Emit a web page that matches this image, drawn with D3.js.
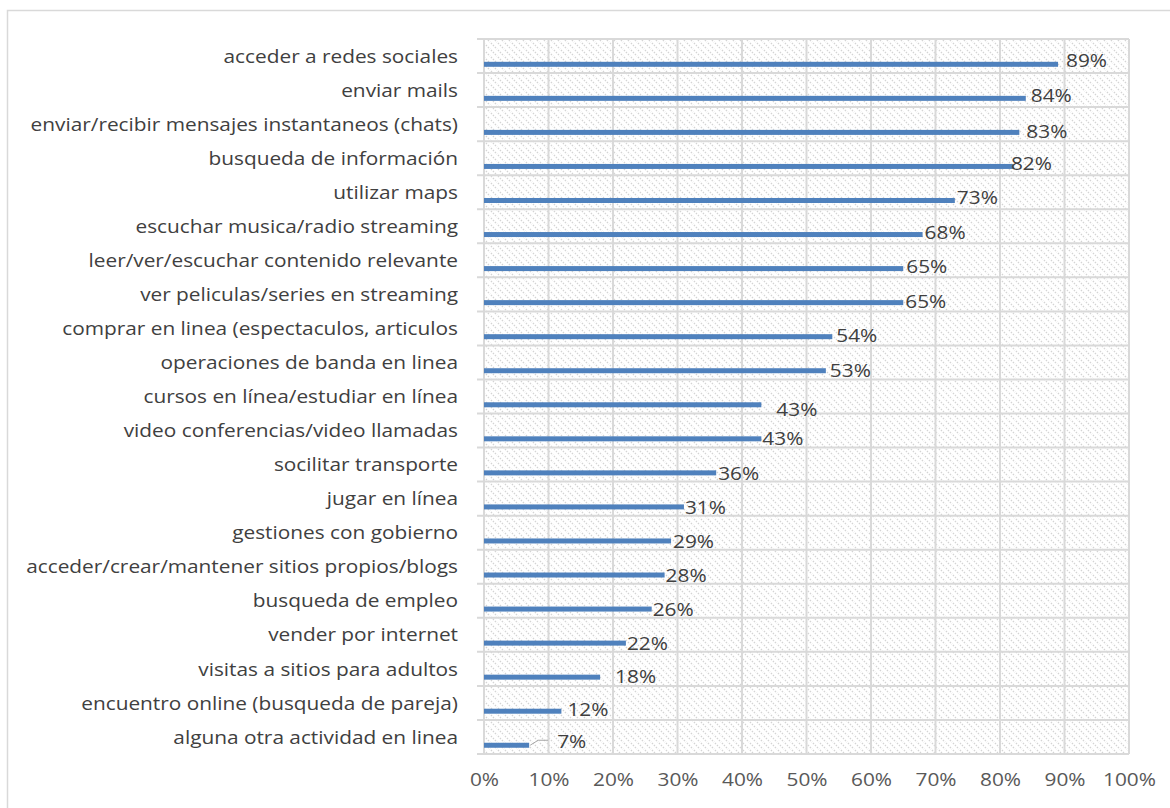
<!DOCTYPE html>
<html>
<head>
<meta charset="utf-8">
<script src="https://cdn.jsdelivr.net/npm/d3@7"></script>
<style>
  html, body { margin: 0; padding: 0; background: #fff; }
  svg { display: block; font-family: "Open Sans", "Noto Sans", sans-serif; }
</style>
</head>
<body>
<svg id="chart" width="1170" height="808"></svg>
<script>
// Online activities and share of respondents doing each one
const categories = [
  "acceder a redes sociales",
  "enviar mails",
  "enviar/recibir mensajes instantaneos (chats)",
  "busqueda de información",
  "utilizar maps",
  "escuchar musica/radio streaming",
  "leer/ver/escuchar contenido relevante",
  "ver peliculas/series en streaming",
  "comprar en linea (espectaculos, articulos",
  "operaciones de banda en linea",
  "cursos en línea/estudiar en línea",
  "video conferencias/video llamadas",
  "socilitar transporte",
  "jugar en línea",
  "gestiones con gobierno",
  "acceder/crear/mantener sitios propios/blogs",
  "busqueda de empleo",
  "vender por internet",
  "visitas a sitios para adultos",
  "encuentro online (busqueda de pareja)",
  "alguna otra actividad en linea"
];
const values = [89, 84, 83, 82, 73, 68, 65, 65, 54, 53, 43, 43, 36, 31, 29, 28, 26, 22, 18, 12, 7];
const tickValues = [0, 10, 20, 30, 40, 50, 60, 70, 80, 90, 100];

// Hand-placed data label nudges [dx, dy] relative to the bar end
const labelOffsets = [
  [8, -3], [5, -2], [7, -1], [-2, -3], [2, -3], [2, -2], [3, -2], [2, -1],
  [4, -1], [4, 0], [15, 5], [1, 0], [2, 1], [1, 1], [2, 1], [1, 1],
  [1, 1], [1, 1], [15, 0], [6, -1], [28, -3]
];

const svg = d3.select("#chart");
const margin = { left: 484, right: 1129, top: 39, bottom: 754 };
const fontSize = 17.5;
const stretch = 1.19;   // text is set slightly wide

const x = d3.scaleLinear().domain([0, 100]).range([margin.left, margin.right]);
const y = d3.scaleBand().domain(categories).range([margin.top, margin.bottom]).padding(0);

// Outer chart frame
svg.append("rect")
  .attr("x", 7.5).attr("y", 10.5)
  .attr("width", 1200).attr("height", 900)
  .attr("fill", "none").attr("stroke", "#d9d9d9").attr("stroke-width", 1.5);

// Diagonal hatch fill for the plot area
const defs = svg.append("defs");
const pat = defs.append("pattern")
  .attr("id", "hatch").attr("patternUnits", "userSpaceOnUse")
  .attr("width", 7).attr("height", 7);
pat.append("rect").attr("width", 7).attr("height", 7).attr("fill", "#fff");
pat.append("path")
  .attr("d", "M-1,-1 L8,8 M-1,6 L1,8 M6,-1 L8,1")
  .attr("stroke", "#d4d4d4").attr("stroke-width", 1.3)
  .attr("stroke-dasharray", "1.4,1.4");

svg.append("rect")
  .attr("x", margin.left).attr("y", margin.top)
  .attr("width", margin.right - margin.left).attr("height", margin.bottom - margin.top)
  .attr("fill", "url(#hatch)");

// Vertical gridlines
svg.append("g")
  .selectAll("line")
  .data(tickValues)
  .join("line")
  .attr("x1", d => x(d)).attr("x2", d => x(d))
  .attr("y1", margin.top).attr("y2", margin.bottom)
  .attr("stroke", "#d9d9d9").attr("stroke-width", 2);

// Horizontal category separators (with small ticks left of the axis)
const bounds = categories.map(c => y(c)).concat([margin.bottom]);
svg.append("g")
  .selectAll("line")
  .data(bounds)
  .join("line")
  .attr("x1", margin.left - 7).attr("x2", margin.right)
  .attr("y1", d => d).attr("y2", d => d)
  .attr("stroke", "#d9d9d9").attr("stroke-width", 2);

// Bars
const barH = 5;
const barOff = 25.3;
svg.append("g")
  .selectAll("rect")
  .data(values)
  .join("rect")
  .attr("x", x(0))
  .attr("y", (d, i) => y(categories[i]) + barOff - barH / 2)
  .attr("width", d => x(d) - x(0))
  .attr("height", barH)
  .attr("fill", "#4f81bd");

// Category labels
svg.append("g")
  .selectAll("text")
  .data(categories)
  .join("text")
  .attr("transform", d => `translate(458,${y(d) + y.bandwidth() / 2 + 0.5}) scale(${stretch},1)`)
  .attr("dy", "0.35em")
  .attr("text-anchor", "end")
  .attr("font-size", fontSize)
  .attr("fill", "#404040")
  .text(d => d);

// Leader line for the smallest value
const last = values.length - 1;
const ly = y(categories[last]) + barOff;
svg.append("path")
  .attr("d", `M${x(values[last]) + 1},${ly} L${x(values[last]) + 9},${ly - 5} L${x(values[last]) + 19},${ly - 5}`)
  .attr("fill", "none").attr("stroke", "#a6a6a6").attr("stroke-width", 1);

// Value labels
svg.append("g")
  .selectAll("text")
  .data(values)
  .join("text")
  .attr("transform", (d, i) =>
    `translate(${x(d) + labelOffsets[i][0]},${y(categories[i]) + barOff + labelOffsets[i][1]}) scale(${stretch},1)`)
  .attr("dy", "0.35em")
  .attr("font-size", fontSize)
  .attr("fill", "#404040")
  .text(d => d + "%");

// X axis tick labels
const xAxis = d3.axisBottom(x)
  .tickValues(tickValues)
  .tickSize(0)
  .tickPadding(0)
  .tickFormat(d => d + "%");
const gx = svg.append("g")
  .attr("transform", `translate(0,${margin.bottom})`)
  .call(xAxis);
gx.select(".domain").remove();
gx.selectAll("text")
  .attr("y", 26)
  .attr("dy", "0.35em")
  .attr("transform", `scale(${stretch},1)`)
  .attr("font-size", fontSize)
  .attr("font-family", "'Open Sans', 'Noto Sans', sans-serif")
  .attr("fill", "#595959");
</script>
</body>
</html>
